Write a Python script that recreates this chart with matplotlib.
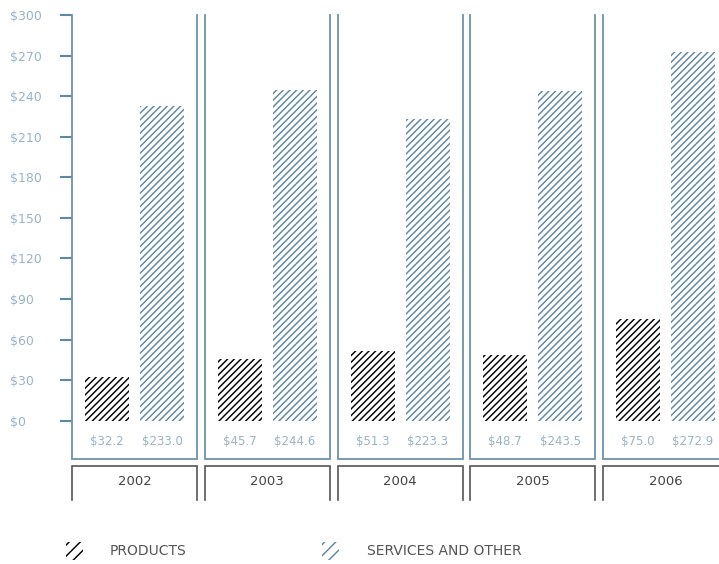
"""
Products vs services revenue by year, hatched bars in boxed year panels
"""

import matplotlib

matplotlib.use("Agg")
import matplotlib.pyplot as plt
from matplotlib.patches import Rectangle
from matplotlib.transforms import ScaledTranslation

# data
years = ["2002", "2003", "2004", "2005", "2006"]
products = [32.2, 45.7, 51.3, 48.7, 75.0]
services = [233.0, 244.6, 223.3, 243.5, 272.9]
y_ticks = [0, 30, 60, 90, 120, 150, 180, 210, 240, 270, 300]

plt.rcParams["font.family"] = ["DejaVu Sans"]
plt.rcParams["hatch.linewidth"] = 1.05

BLUE = "#5f88a2"
LIGHT = "#9ab3c5"
DARK = "#444444"
BOX = "#6d93ab"

W, H = 719, 564
fig = plt.figure(figsize=(W / 100, H / 100), dpi=100)

# axes geometry in pixels
left_px, top_px, bottom_px = 72, 15, 459
period = 132.75
ax = fig.add_axes([left_px / W, (H - bottom_px) / H, (W - left_px) / W, (bottom_px - top_px) / H])

px_per_unit = 405.7 / 300
ylo = 300 - (bottom_px - top_px) / px_per_unit
half = 62.5 / period
ax.set_xlim(-half, -half + (W - left_px) / period)
ax.set_ylim(ylo, 300)

for s in ax.spines.values():
    s.set_visible(False)

off = 27.5 / period
bw = 44 / period
xs = list(range(len(years)))

ax.bar([x - off for x in xs], products, width=bw, color="white",
       edgecolor="black", hatch="/////", linewidth=0)
ax.bar([x + off for x in xs], services, width=bw, color="white",
       edgecolor=BLUE, hatch="/////", linewidth=0)

def to_data(px):
    return (420.7 - px) / px_per_unit

yb_top, yb_bot = to_data(466), to_data(500)
for i, yr in enumerate(years):
    l, r = i - half, i + half
    # panel box, open at top
    ax.plot([l, l, r, r], [300, ylo, ylo, 300], color=BOX, lw=1.3,
            clip_on=False, solid_joinstyle="miter")
    # year box, open at bottom
    ax.plot([l, l, r, r], [yb_bot, yb_top, yb_top, yb_bot], color="#555555",
            lw=1.2, clip_on=False, solid_joinstyle="miter")
    ax.text(i, to_data(481), yr, ha="center", va="center", fontsize=9.5,
            color=DARK, clip_on=False)
    ax.text(i - off, to_data(441), f"${products[i]:.1f}", ha="center",
            va="center", fontsize=8.5, color=LIGHT, clip_on=False)
    ax.text(i + off, to_data(441), f"${services[i]:.1f}", ha="center",
            va="center", fontsize=8.5, color=LIGHT, clip_on=False)

ax.set_yticks(y_ticks)
ax.set_yticklabels([f"${v}" for v in y_ticks])
ax.set_xticks([])
ax.tick_params(axis="y", length=8.5, width=1.5, color=BLUE, labelcolor=LIGHT,
               labelsize=9, pad=0)
# tick labels are left-aligned near the figure edge
shift = ScaledTranslation(-50 / 100, 0, fig.dpi_scale_trans)
for t in ax.get_yticklabels():
    t.set_horizontalalignment("left")
    t.set_transform(t.get_transform() + shift)

# legend
leg = [("PRODUCTS", "black", 66, 110), ("SERVICES AND OTHER", BLUE, 322, 367)]
for label, col, ix, tx in leg:
    fig.patches.append(Rectangle((ix / W, (H - 560) / H), 17 / W, 18 / H,
                                 transform=fig.transFigure, facecolor="white",
                                 edgecolor=col, hatch="///", linewidth=0))
    fig.text(tx / W, (H - 551) / H, label, ha="left", va="center",
             fontsize=10, color="#555555")

plt.savefig("out.png", dpi=100)
